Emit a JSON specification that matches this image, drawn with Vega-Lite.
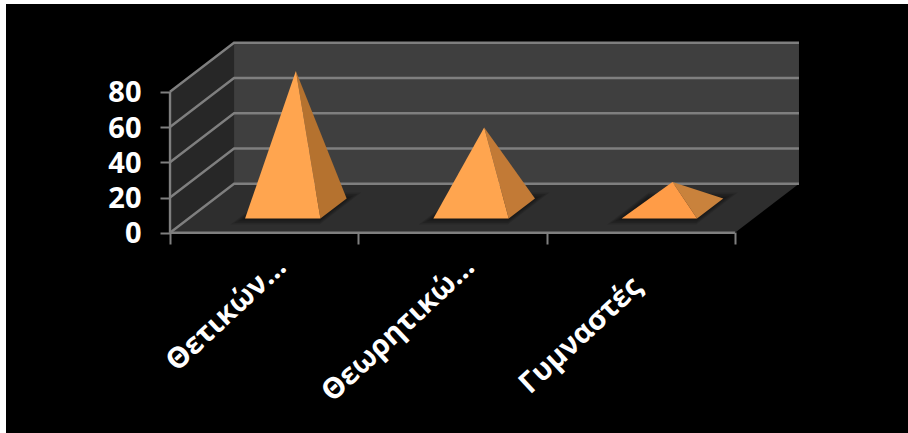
{
  "$schema": "https://vega.github.io/schema/vega-lite/v6.json",
  "width": 902,
  "height": 429,
  "autosize": "none",
  "padding": {"left": 6, "top": 4, "right": 0, "bottom": 0},
  "background": "#ffffff",
  "view": {"fill": "#000000", "stroke": null},
  "datasets": {
    "results": [
      {"category": "Θετικών…", "slot": 0, "value": 78},
      {"category": "Θεωρητικώ…", "slot": 1, "value": 46},
      {"category": "Γυμναστές", "slot": 2, "value": 15}
    ],
    "levels": [{"level": 0}, {"level": 20}, {"level": 40}, {"level": 60}, {"level": 80}],
    "box": [{"part": "box"}]
  },
  "layer": [
    {
      "data": {"name": "box"},
      "transform": [
        {"calculate": "[{f:'left',o:0,u:0,v:0,d:0},{f:'left',o:1,u:0,v:0,d:1},{f:'left',o:2,u:0,v:80,d:1},{f:'left',o:3,u:0,v:80,d:0},{f:'back',o:0,u:0,v:0,d:1},{f:'back',o:1,u:3,v:0,d:1},{f:'back',o:2,u:3,v:80,d:1},{f:'back',o:3,u:0,v:80,d:1},{f:'floor',o:0,u:0,v:0,d:0},{f:'floor',o:1,u:3,v:0,d:0},{f:'floor',o:2,u:3,v:0,d:1},{f:'floor',o:3,u:0,v:0,d:1}]", "as": "vertex"},
        {"flatten": ["vertex"]},
        {"calculate": "datum.vertex.u + datum.vertex.d * 0.34", "as": "px"},
        {"calculate": "datum.vertex.v + datum.vertex.d * 27.8", "as": "py"},
        {"calculate": "datum.vertex.f", "as": "face"},
        {"calculate": "datum.vertex.o", "as": "ord"}
      ],
      "mark": {"type": "line", "strokeWidth": 0},
      "encoding": {
        "x": {
          "field": "px", "type": "quantitative",
          "scale": {"domain": [-0.871, 3.919], "nice": false, "zero": false},
          "axis": {"title": null, "orient": "bottom", "values": [0, 1, 2, 3], "labels": false, "domain": false, "grid": false, "offset": -201, "tickSize": 12, "tickWidth": 2, "tickColor": "#7f7f7f"}
        },
        "y": {
          "field": "py", "type": "quantitative",
          "scale": {"domain": [-113.6, 129.8], "nice": false, "zero": false},
          "axis": {"title": null, "values": [0, 20, 40, 60, 80], "domain": false, "grid": false, "offset": -164, "tickSize": 10, "tickWidth": 2, "tickColor": "#7f7f7f", "labelColor": "#ffffff", "labelFont": "Open Sans", "labelFontWeight": "bold", "labelFontSize": 29, "labelPadding": 19, "labelOffset": 1}
        },
        "detail": {"field": "face"},
        "order": {"field": "ord", "type": "quantitative"},
        "fill": {"field": "face", "type": "nominal", "legend": null, "scale": {"domain": ["left", "back", "floor"], "range": ["#272727", "#3f3f3f", "#2e2e2e"]}}
      }
    },
    {
      "data": {"name": "levels"},
      "transform": [
        {"calculate": "[{o:0,u:0,d:0},{o:1,u:0,d:1},{o:2,u:3,d:1}]", "as": "vertex"},
        {"flatten": ["vertex"]},
        {"calculate": "datum.vertex.u + datum.vertex.d * 0.34", "as": "px"},
        {"calculate": "datum.level + datum.vertex.d * 27.8", "as": "py"},
        {"calculate": "datum.vertex.o", "as": "ord"}
      ],
      "mark": {"type": "line", "color": "#7f7f7f", "strokeWidth": 2.4},
      "encoding": {
        "x": {"field": "px", "type": "quantitative", "axis": null},
        "y": {"field": "py", "type": "quantitative", "axis": null},
        "detail": {"field": "level"},
        "order": {"field": "ord", "type": "quantitative"}
      }
    },
    {
      "data": {"name": "box"},
      "transform": [
        {"calculate": "[{e:'axis',o:0,u:0,v:0},{e:'axis',o:1,u:0,v:80},{e:'front',o:0,u:0,v:0},{e:'front',o:1,u:3,v:0}]", "as": "vertex"},
        {"flatten": ["vertex"]},
        {"calculate": "datum.vertex.u", "as": "px"},
        {"calculate": "datum.vertex.v", "as": "py"},
        {"calculate": "datum.vertex.e", "as": "edge"},
        {"calculate": "datum.vertex.o", "as": "ord"}
      ],
      "mark": {"type": "line", "color": "#7f7f7f", "strokeWidth": 2.4},
      "encoding": {
        "x": {"field": "px", "type": "quantitative", "axis": null},
        "y": {"field": "py", "type": "quantitative", "axis": null},
        "detail": {"field": "edge"},
        "order": {"field": "ord", "type": "quantitative"}
      }
    },
    {
      "data": {"name": "results"},
      "transform": [
        {"calculate": "[1,2,3,4]", "as": "spread"},
        {"flatten": ["spread"]},
        {"calculate": "[{o:0,a:-1,b:-1},{o:1,a:1,b:-1},{o:2,a:1,b:1},{o:3,a:-1,b:1}]", "as": "vertex"},
        {"flatten": ["vertex"]},
        {"calculate": "datum.slot + 0.5 + datum.vertex.a * (0.2 + 0.009 * datum.spread) + (0.495 + datum.vertex.b * (0.205 + 0.03 * datum.spread)) * 0.34", "as": "px"},
        {"calculate": "(0.495 + datum.vertex.b * (0.205 + 0.03 * datum.spread)) * 27.8", "as": "py"},
        {"calculate": "datum.category + datum.spread", "as": "shadow"},
        {"calculate": "datum.vertex.o", "as": "ord"}
      ],
      "mark": {"type": "line", "strokeWidth": 0, "fill": "#000000", "fillOpacity": 0.13},
      "encoding": {
        "x": {"field": "px", "type": "quantitative", "axis": null},
        "y": {"field": "py", "type": "quantitative", "axis": null},
        "detail": {"field": "shadow"},
        "order": {"field": "ord", "type": "quantitative"}
      }
    },
    {
      "data": {"name": "results"},
      "transform": [
        {"calculate": "[{f:'side',o:0,u:0,d:0.495,h:1},{f:'side',o:1,u:0.2,d:0.29,h:0},{f:'side',o:2,u:0.2,d:0.7,h:0},{f:'front',o:0,u:0,d:0.495,h:1},{f:'front',o:1,u:-0.2,d:0.29,h:0},{f:'front',o:2,u:0.2,d:0.29,h:0}]", "as": "vertex"},
        {"flatten": ["vertex"]},
        {"calculate": "datum.slot + 0.5 + datum.vertex.u + datum.vertex.d * 0.34", "as": "px"},
        {"calculate": "datum.value * datum.vertex.h + datum.vertex.d * 27.8", "as": "py"},
        {"calculate": "datum.vertex.f + datum.slot", "as": "shade"},
        {"calculate": "datum.vertex.o", "as": "ord"}
      ],
      "mark": {"type": "line", "strokeWidth": 0},
      "encoding": {
        "x": {
          "field": "px", "type": "quantitative",
          "axis": {"title": null, "orient": "bottom", "values": [0.5, 1.5, 2.5], "labelExpr": "datum.value < 1 ? 'Θετικών…' : datum.value < 2 ? 'Θεωρητικώ…' : 'Γυμναστές'", "domain": false, "ticks": false, "grid": false, "offset": -201, "zindex": 1, "labelAngle": -43, "labelAlign": "right", "labelBaseline": "middle", "labelOffset": {"condition": {"test": "datum.value > 2", "value": -4}, "value": 17}, "labelPadding": {"condition": {"test": "datum.value > 2", "value": 50}, "value": 30}, "labelLimit": 400, "labelColor": "#ffffff", "labelFont": "Open Sans", "labelFontWeight": "bold", "labelFontSize": 29, "labelOverlap": false, "labelBound": false, "labelFlush": false}
        },
        "y": {"field": "py", "type": "quantitative", "axis": null},
        "detail": {"field": "shade"},
        "order": {"field": "ord", "type": "quantitative"},
        "fill": {"field": "shade", "type": "nominal", "legend": null, "scale": {"domain": ["side0", "front0", "side1", "front1", "side2", "front2"], "range": ["#b5722f", "#ffa54f", "#c27a36", "#ffa54f", "#c9823c", "#ff9c47"]}}
      }
    }
  ],
  "resolve": {"scale": {"fill": "independent"}, "axis": {"x": "independent", "y": "independent"}}
}
